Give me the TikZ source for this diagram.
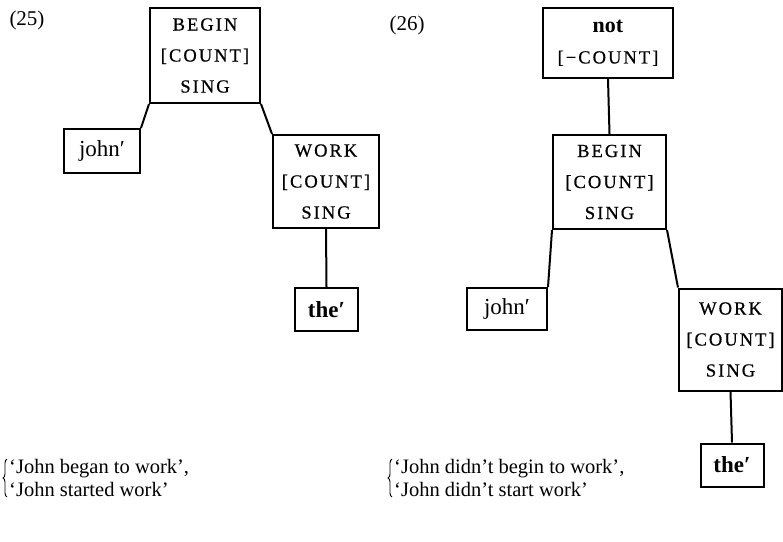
\documentclass[tikz,border=0pt]{standalone}
\usepackage{fontspec}
\setmainfont{Liberation Serif}
\newfontfamily\capsfont[LetterSpace=11,FakeBold=0.6]{Liberation Serif}
\usetikzlibrary{decorations.pathreplacing}
\tikzset{
  featbox/.style={draw,line width=2pt,align=center,inner sep=2pt,
    font=\capsfont\fontsize{18.5}{31}\selectfont},
  lexbox/.style={draw,line width=2pt,inner sep=2pt,
    font=\fontsize{23}{26}\selectfont},
  tedge/.style={line width=2pt},
  exnum/.style={font=\fontsize{21}{24}\selectfont},
  gloss/.style={anchor=west,align=left,inner sep=0pt,
    font=\fontsize{20.5}{23}\selectfont},
  glossbrace/.style={decorate,decoration={brace,amplitude=4pt},line width=0.9pt},
}
\begin{document}
\begin{tikzpicture}[x=1pt,y=-1pt]
  \useasboundingbox (0,0) rectangle (783,541);
  % tree (25)
  \node[exnum] (n25) at (27,20) {(25)};
  \node[featbox,minimum width=110pt,minimum height=95pt] (b25) at (205,55.5)
    {BEGIN\\{[COUNT]}\\SING};
  \node[lexbox,minimum width=76pt,minimum height=44pt] (j25) at (102,151) {john′};
  \node[featbox,minimum width=106pt,minimum height=93pt] (w25) at (326,181.5)
    {WORK\\{[COUNT]}\\SING};
  \node[lexbox,minimum width=63pt,minimum height=43pt] (t25) at (326.5,309.5)
    {\bfseries the′};
  \draw[tedge] (b25.south west) -- (j25.north east);
  \draw[tedge] (b25.south east) -- (w25.north west);
  \draw[tedge] (w25.south) -- (t25.north);
  % tree (26)
  \node[exnum] (n26) at (407,25) {(26)};
  \node[featbox,minimum width=130pt,minimum height=70pt] (nt26) at (608,43)
    {{\rmfamily\bfseries\fontsize{22}{31}\selectfont not}\\{[−COUNT]}};
  \node[featbox,minimum width=113pt,minimum height=94pt] (b26) at (609.5,182)
    {BEGIN\\{[COUNT]}\\SING};
  \node[lexbox,minimum width=80pt,minimum height=42pt] (j26) at (507,309) {john′};
  \node[featbox,minimum width=103pt,minimum height=102pt] (w26) at (730.5,339.5)
    {WORK\\{[COUNT]}\\SING};
  \node[lexbox,minimum width=63pt,minimum height=43pt] (t26) at (732,465)
    {\bfseries the′};
  \draw[tedge] (nt26.south) -- (b26.north);
  \draw[tedge] (b26.south west) -- (j26.north east);
  \draw[tedge] (b26.south east) -- (w26.north west);
  \draw[tedge] (w26.south) -- (t26.north);
  % glosses
  \node[gloss] (g25) at (9,478) {‘John began to work’,\\‘John started work’};
  \node[gloss] (g26) at (394,478) {‘John didn’t begin to work’,\\‘John didn’t start work’};
  \draw[glossbrace] ([xshift=-2pt]g25.south west) -- ([xshift=-2pt]g25.north west);
  \draw[glossbrace] ([xshift=-2pt]g26.south west) -- ([xshift=-2pt]g26.north west);
\end{tikzpicture}
\end{document}
